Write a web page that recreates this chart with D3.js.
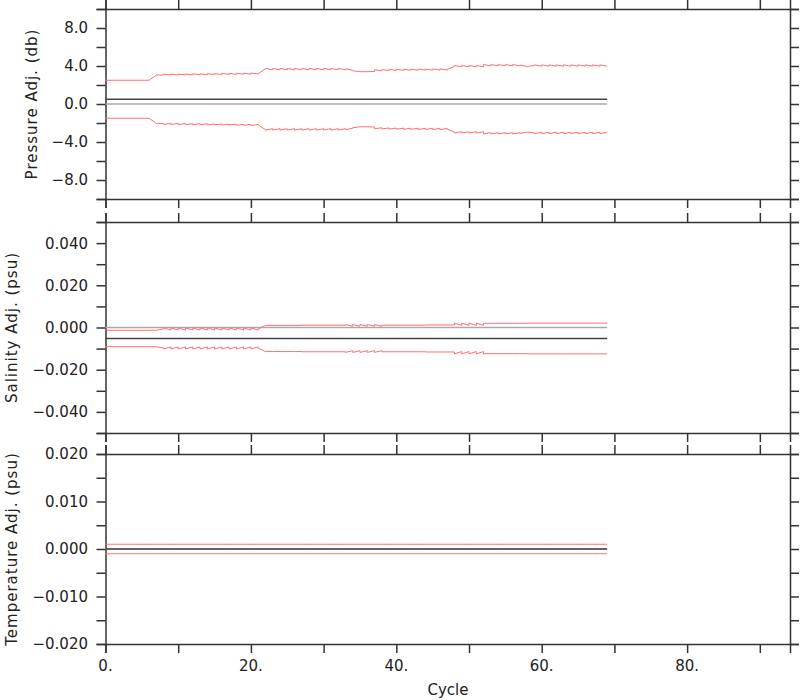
<!DOCTYPE html>
<html><head><meta charset="utf-8">
<script src="https://cdn.jsdelivr.net/npm/d3@7"></script>
<style>body{margin:0;background:#fff}svg{display:block}</style>
</head><body>
<svg id="chart" width="800" height="700"></svg>
<script>
// ---------------- DATA ----------------
const cycleNum = [0,1,2,3,4,5,6,7,8,9,10,11,12,13,14,15,16,17,18,19,20,21,22,23,24,25,26,27,28,29,30,31,32,33,34,35,36,37,38,39,40,41,42,43,44,45,46,47,48,49,50,51,52,53,54,55,56,57,58,59,60,61,62,63,64,65,66,67,68,69];

// pressure adjustment (db), one per cycle
const presAdj = [0.5,0.5,0.5,0.5,0.5,0.5,0.5,0.5,0.5,0.5,0.5,0.5,0.5,0.5,0.5,0.5,0.5,0.5,0.5,0.5,0.5,0.5,0.5,0.5,0.5,0.5,0.5,0.5,0.5,0.5,0.5,0.5,0.5,0.5,0.5,0.5,0.5,0.5,0.5,0.5,0.5,0.5,0.5,0.5,0.5,0.5,0.5,0.5,0.5,0.5,0.5,0.5,0.5,0.5,0.5,0.5,0.5,0.5,0.5,0.5,0.5,0.5,0.5,0.5,0.5,0.5,0.5,0.5,0.5,0.5];
// pressure error: value at start / end of each cycle interval
const presErrStart = [2.0,2.0,2.0,2.0,2.0,2.0,2.0,2.55,2.65,2.65,2.66,2.67,2.68,2.68,2.70,2.70,2.72,2.72,2.74,2.74,2.76,2.70,3.25,3.25,3.25,3.25,3.25,3.25,3.25,3.25,3.25,3.25,3.25,3.20,3.00,2.90,2.90,3.10,3.12,3.14,3.15,3.16,3.17,3.18,3.18,3.19,3.20,3.15,3.55,3.55,3.55,3.55,3.65,3.65,3.65,3.65,3.65,3.60,3.45,3.62,3.62,3.62,3.62,3.62,3.62,3.62,3.62,3.62,3.62];
const presErrEnd   = [2.0,2.0,2.0,2.0,2.0,2.0,2.55,2.55,2.55,2.55,2.56,2.57,2.58,2.58,2.60,2.60,2.62,2.62,2.64,2.64,2.66,3.20,3.10,3.10,3.10,3.10,3.10,3.10,3.10,3.10,3.10,3.10,3.10,3.05,2.90,2.90,2.92,3.00,3.02,3.03,3.04,3.05,3.05,3.06,3.06,3.07,3.07,3.45,3.42,3.42,3.42,3.42,3.52,3.52,3.52,3.52,3.52,3.45,3.55,3.48,3.48,3.48,3.48,3.48,3.48,3.48,3.48,3.48,3.48];

// salinity adjustment (psu)
const psalAdj = [-0.0052,-0.0052,-0.0052,-0.0052,-0.0052,-0.0052,-0.0052,-0.0052,-0.0052,-0.0052,-0.0052,-0.0052,-0.0052,-0.0052,-0.0052,-0.0052,-0.0052,-0.0052,-0.0052,-0.0052,-0.0052,-0.0052,-0.0052,-0.0052,-0.0052,-0.0052,-0.0052,-0.0052,-0.0052,-0.0052,-0.0052,-0.0052,-0.0052,-0.0052,-0.0052,-0.0052,-0.0052,-0.0052,-0.0052,-0.0052,-0.0052,-0.0052,-0.0052,-0.0052,-0.0052,-0.0052,-0.0052,-0.0052,-0.0052,-0.0052,-0.0052,-0.0052,-0.0052,-0.0052,-0.0052,-0.0052,-0.0052,-0.0052,-0.0052,-0.0052,-0.0052,-0.0052,-0.0052,-0.0052,-0.0052,-0.0052,-0.0052,-0.0052,-0.0052,-0.0052];
const psalErrStart = [0.0039,0.0039,0.0039,0.0039,0.0039,0.0039,0.0039,0.0039,0.0050,0.0050,0.0050,0.0050,0.0050,0.0050,0.0050,0.0050,0.0050,0.0050,0.0050,0.0050,0.0050,0.0045,0.0062,0.0062,0.0062,0.0062,0.0062,0.0063,0.0063,0.0063,0.0063,0.0063,0.0063,0.0066,0.0066,0.0066,0.0066,0.0066,0.0063,0.0063,0.0063,0.0063,0.0063,0.0063,0.0064,0.0064,0.0064,0.0064,0.0073,0.0073,0.0073,0.0073,0.0072,0.0072,0.0072,0.0072,0.0072,0.0072,0.0073,0.0073,0.0073,0.0073,0.0073,0.0073,0.0073,0.0073,0.0073,0.0073,0.0073];
const psalErrEnd   = [0.0039,0.0039,0.0039,0.0039,0.0039,0.0039,0.0039,0.0045,0.0040,0.0040,0.0040,0.0040,0.0040,0.0040,0.0040,0.0040,0.0040,0.0040,0.0040,0.0040,0.0040,0.0062,0.0062,0.0062,0.0062,0.0062,0.0062,0.0063,0.0063,0.0063,0.0063,0.0063,0.0063,0.0058,0.0058,0.0058,0.0058,0.0058,0.0063,0.0063,0.0063,0.0063,0.0063,0.0063,0.0064,0.0064,0.0064,0.0064,0.0062,0.0062,0.0062,0.0062,0.0072,0.0072,0.0072,0.0072,0.0072,0.0072,0.0073,0.0073,0.0073,0.0073,0.0073,0.0073,0.0073,0.0073,0.0073,0.0073,0.0073];

// temperature adjustment
const tempAdj = [0,0,0,0,0,0,0,0,0,0,0,0,0,0,0,0,0,0,0,0,0,0,0,0,0,0,0,0,0,0,0,0,0,0,0,0,0,0,0,0,0,0,0,0,0,0,0,0,0,0,0,0,0,0,0,0,0,0,0,0,0,0,0,0,0,0,0,0,0,0];
const tempErrStart = [0.001,0.001,0.001,0.001,0.001,0.001,0.001,0.001,0.001,0.001,0.001,0.001,0.001,0.001,0.001,0.001,0.001,0.001,0.001,0.001,0.001,0.001,0.001,0.001,0.001,0.001,0.001,0.001,0.001,0.001,0.001,0.001,0.001,0.001,0.001,0.001,0.001,0.001,0.001,0.001,0.001,0.001,0.001,0.001,0.001,0.001,0.001,0.001,0.001,0.001,0.001,0.001,0.001,0.001,0.001,0.001,0.001,0.001,0.001,0.001,0.001,0.001,0.001,0.001,0.001,0.001,0.001,0.001,0.001];
const tempErrEnd = tempErrStart;

// axis tick labels
const xTickLabels = ["0.","20.","40.","60.","80."];
const xTickLabelValues = [0,20,40,60,80];
const xTickValues = [0,10,20,30,40,50,60,70,80,90];

const presTicks = [-10,-8,-6,-4,-2,0,2,4,6,8,10];
const presLabelValues = [-8,-4,0,4,8];
const psalTicks = [-0.05,-0.04,-0.03,-0.02,-0.01,0,0.01,0.02,0.03,0.04,0.05];
const psalLabelValues = [-0.04,-0.02,0,0.02,0.04];
const tempTicks = [-0.02,-0.015,-0.01,-0.005,0,0.005,0.01,0.015,0.02];
const tempLabelValues = [-0.02,-0.01,0,0.01,0.02];

const titles = ["Pressure Adj. (db)","Salinity Adj. (psu)","Temperature Adj. (psu)"];
const xTitle = "Cycle";

// ---------------- DRAWING ----------------
const svg = d3.select("#chart");
const FONT = "'DejaVu Sans', sans-serif";
const AX = "#333";
const x = d3.scaleLinear().domain([0, 94.15]).range([105.5, 790]);

const panels = [
  {dom:[-10,10], rng:[199,9], ticks:presTicks, labels:presLabelValues, fmt:d=>d3.format(".1f")(d).replace("-","\u2212"), adj:presAdj, es:presErrStart, ee:presErrEnd, title:titles[0], tx:32, zero:true},
  {dom:[-0.05,0.05], rng:[433,222], ticks:psalTicks, labels:psalLabelValues, fmt:d=>d3.format(".3f")(d).replace("-","\u2212"), adj:psalAdj, es:psalErrStart, ee:psalErrEnd, title:titles[1], tx:12, zero:true},
  {dom:[-0.02,0.02], rng:[644,454], ticks:tempTicks, labels:tempLabelValues, fmt:d=>d3.format(".3f")(d).replace("-","\u2212"), adj:tempAdj, es:tempErrStart, ee:tempErrEnd, title:titles[2], tx:12, zero:true}
];

panels.forEach((p, pi) => {
  const y = d3.scaleLinear().domain(p.dom).range(p.rng);
  const g = svg.append("g");
  const top = p.rng[1], bot = p.rng[0];

  // axes via d3
  const axL = d3.axisLeft(y).tickValues(p.ticks).tickSize(9).tickFormat("");
  const axR = d3.axisRight(y).tickValues(p.ticks).tickSize(9).tickFormat("");
  const axT = d3.axisTop(x).tickValues(xTickValues).tickSize(9).tickFormat("");
  const axB = d3.axisBottom(x).tickValues(xTickValues).tickSize(9).tickFormat("");
  const style = sel => { sel.select(".domain").attr("stroke",AX).attr("stroke-width",1.5);
    sel.selectAll(".tick line").attr("stroke",AX).attr("stroke-width",1.5); };
  g.append("g").attr("transform",`translate(${x.range()[0]},0)`).call(axL).call(style);
  g.append("g").attr("transform",`translate(${x.range()[1]},0)`).call(axR).call(style);
  g.append("g").attr("transform",`translate(0,${top})`).call(axT).call(style);
  g.append("g").attr("transform",`translate(0,${bot})`).call(axB).call(style);
  g.selectAll(".domain").attr("d", function(){ return d3.select(this).attr("d"); });

  // y labels
  g.selectAll("text.yl").data(p.labels).join("text")
    .attr("x", 88).attr("y", d => y(d)).attr("dy","0.36em")
    .attr("text-anchor","end").attr("font-family",FONT).attr("font-size",15).attr("fill","#222")
    .text(p.fmt);

  // y title
  g.append("text").attr("transform",`translate(${p.tx},${(top+bot)/2}) rotate(-90)`)
    .attr("text-anchor","middle").attr("dy","0.35em").attr("font-family",FONT).attr("font-size",15)
    .attr("letter-spacing","1px").attr("fill","#222").text(p.title);

  // zero line
  const n = cycleNum.length;
  g.append("line").attr("x1",x(cycleNum[0])).attr("x2",x(cycleNum[n-1]))
    .attr("y1",y(0)).attr("y2",y(0)).attr("stroke","#aaa").attr("stroke-width",1.6);

  // envelope lines
  const upper = [], lower = [];
  for (let i = 0; i < n-1; i++) {
    upper.push([cycleNum[i], p.adj[i] + p.es[i]]);
    upper.push([cycleNum[i+1], p.adj[i+1] + p.ee[i]]);
    lower.push([cycleNum[i], p.adj[i] - p.es[i]]);
    lower.push([cycleNum[i+1], p.adj[i+1] - p.ee[i]]);
  }
  const line = d3.line().x(d => x(d[0])).y(d => y(d[1]));
  [upper, lower].forEach(pts => g.append("path").attr("d", line(pts))
    .attr("fill","none").attr("stroke","#ff7070").attr("stroke-width",1));

  // adjustment line
  g.append("path").attr("d", line(cycleNum.map((c,i)=>[c,p.adj[i]])))
    .attr("fill","none").attr("stroke","#444").attr("stroke-width",1.6);

  // x labels on bottom panel
  if (pi === 2) {
    g.selectAll("text.xl").data(xTickLabelValues).join("text")
      .attr("x", d => x(d)).attr("y", 671).attr("text-anchor","middle")
      .attr("font-family",FONT).attr("font-size",15).attr("fill","#222")
      .text((d,i) => xTickLabels[i]);
    g.append("text").attr("x",448).attr("y",695).attr("text-anchor","middle")
      .attr("font-family",FONT).attr("font-size",15).attr("fill","#222").text(xTitle);
  }
});
</script>
</body></html>
